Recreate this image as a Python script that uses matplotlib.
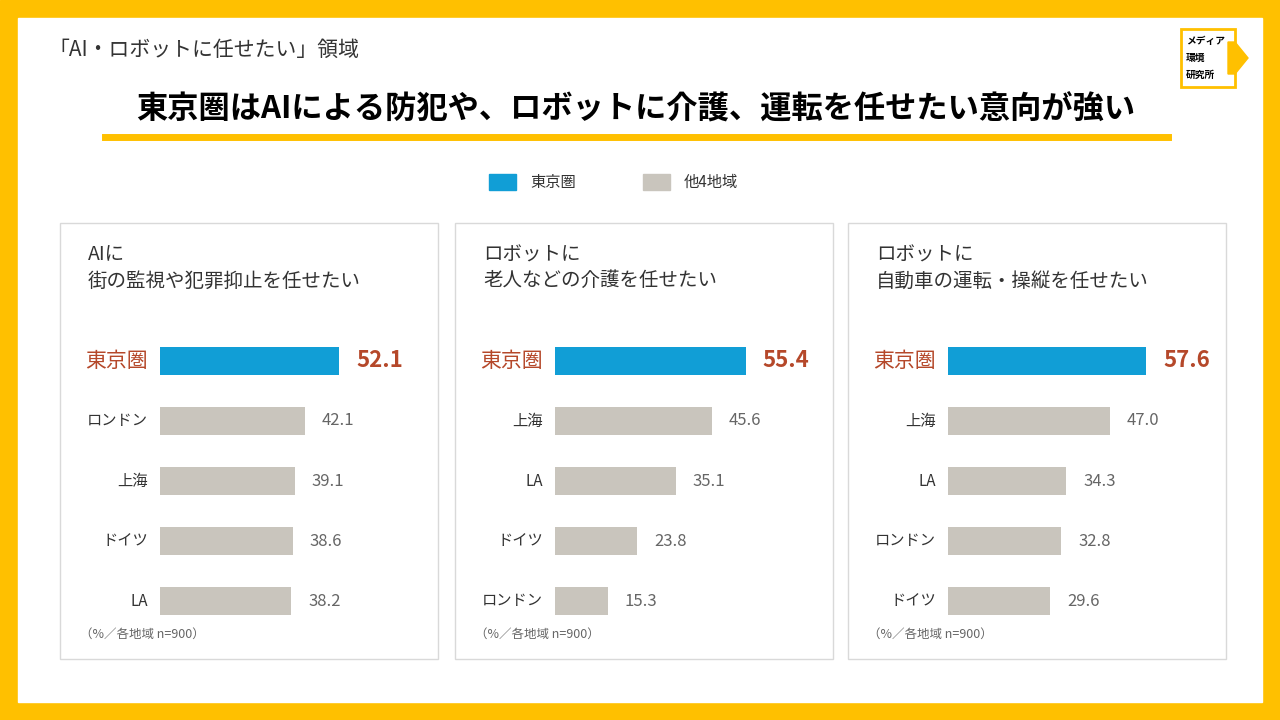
import matplotlib
matplotlib.use("Agg")
import matplotlib.pyplot as plt
from matplotlib.patches import Rectangle, Polygon

plt.rcParams['font.family'] = ['Noto Sans CJK JP', 'DejaVu Sans']

W, H = 1280, 720
YEL = '#FFC000'
BLUE = '#119ED6'
GREY = '#C9C5BD'
RED = '#B5482A'
TXT = '#333333'

panels = [
    ("AIに\n街の監視や犯罪抑止を任せたい",
     ["東京圏", "ロンドン", "上海", "ドイツ", "LA"], [52.1, 42.1, 39.1, 38.6, 38.2]),
    ("ロボットに\n老人などの介護を任せたい",
     ["東京圏", "上海", "LA", "ドイツ", "ロンドン"], [55.4, 45.6, 35.1, 23.8, 15.3]),
    ("ロボットに\n自動車の運転・操縦を任せたい",
     ["東京圏", "上海", "LA", "ロンドン", "ドイツ"], [57.6, 47.0, 34.3, 32.8, 29.6]),
]

fig = plt.figure(figsize=(12.8, 7.2), dpi=100)
bg = fig.add_axes([0, 0, 1, 1])
bg.set_xlim(0, W)
bg.set_ylim(H, 0)
bg.axis('off')

# 枠
bg.add_patch(Rectangle((0, 0), W, H, color=YEL))
bg.add_patch(Rectangle((18, 18), W - 36, H - 36, color='white'))

bg.text(48, 50, "「AI・ロボットに任せたい」領域", fontsize=15, color=TXT, va='center')
bg.text(636, 110, "東京圏はAIによる防犯や、ロボットに介護、運転を任せたい意向が強い",
        fontsize=22.5, fontweight='bold', color='black', ha='center', va='center')
bg.plot([105, 1168], [137, 137], color=YEL, lw=5)

# ロゴ
bg.add_patch(Rectangle((1181, 29), 54, 58, facecolor='white', edgecolor=YEL, lw=2))
bg.add_patch(Polygon([[1228, 42], [1235, 42], [1248, 58], [1235, 74], [1228, 74]], color=YEL))
for i, s in enumerate(["メディア", "環境", "研究所"]):
    bg.text(1186, 41 + i * 17, s, fontsize=7, fontweight='bold', va='center', color='black')

# 凡例
bg.add_patch(Rectangle((489, 174), 27, 16, color=BLUE))
bg.text(530, 182, "東京圏", fontsize=11, va='center', color=TXT)
bg.add_patch(Rectangle((643, 174), 27, 16, color=GREY))
bg.text(684, 182, "他4地域", fontsize=11, va='center', color=TXT)

PX = 3.44
box_x = [60, 455, 848]
for bx, (title, labels, vals) in zip(box_x, panels):
    bg.add_patch(Rectangle((bx, 223), 378, 436, fill=False, edgecolor='#D9D9D9', lw=1))
    bg.text(bx + 28, 268, title, fontsize=14, color=TXT, va='center', linespacing=1.3)
    bg.text(bx + 20, 634, "（%／各地域 n=900）", fontsize=9, color='#666666', va='center')

    left = bx + 100
    ax = fig.add_axes([left / W, 1 - 631 / H, 270 / W, 300 / H])
    ax.set_xlim(0, 270 / PX)
    ax.set_ylim(4.5, -0.5)
    ax.axis('off')
    colors = [BLUE] + [GREY] * 4
    ax.barh(range(5), vals, height=0.48, color=colors)
    for i, (lab, v) in enumerate(zip(labels, vals)):
        if i == 0:
            ax.text(-3.5, i, lab, ha='right', va='center', fontsize=15, color=RED)
            ax.text(v + 5, i, f"{v:.1f}", ha='left', va='center', fontsize=16,
                    fontweight='bold', color=RED)
        else:
            ax.text(-3.5, i, lab, ha='right', va='center', fontsize=11, color=TXT)
            ax.text(v + 5, i, f"{v:.1f}", ha='left', va='center', fontsize=12, color='#666666')

fig.savefig("out.png", dpi=100)
